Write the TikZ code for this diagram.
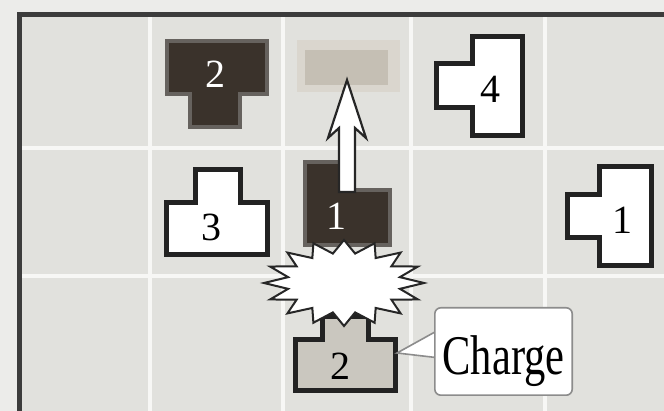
\documentclass[tikz,border=0pt]{standalone}
\usepackage{fontspec}
\setmainfont{Liberation Serif}
\usetikzlibrary{calc}
\definecolor{outbg}{HTML}{ECECEA}
\definecolor{inbg}{HTML}{E1E1DD}
\definecolor{gridc}{HTML}{F7F7F5}
\definecolor{framec}{HTML}{3C3C3C}
\definecolor{darkfill}{HTML}{3A322B}
\definecolor{darkedge}{HTML}{66625E}
\definecolor{ghosthalo}{HTML}{DAD6CE}
\definecolor{ghostcore}{HTML}{C5BFB4}
\definecolor{lightfill}{HTML}{CAC7BF}
\definecolor{edgec}{HTML}{222222}
\begin{document}
\begin{tikzpicture}[x=1pt,y=-1pt,
  wpiece/.style={fill=white,draw=edgec,line width=5pt,line join=miter},
  dpiece/.style={fill=darkfill,draw=darkedge,line width=4pt,line join=miter},
  lpiece/.style={fill=lightfill,draw=edgec,line width=5pt,line join=miter},
  digit/.style={font=\fontsize{40}{40}\selectfont,inner sep=0pt},
  gridline/.style={gridc,line width=3.5pt},
  burststyle/.style={fill=white,draw=black!85,line width=2pt,line join=miter},
  calloutstyle/.style={fill=white,draw=black!45,line width=1.6pt},
  arrowstyle/.style={fill=white,draw=black!85,line width=2.2pt,line join=miter}]
\useasboundingbox (0,0) rectangle (664,411);
\clip (0,0) rectangle (664,411);
% background
\fill[outbg] (0,0) rectangle (664,411);
\fill[inbg] (19,14.5) rectangle (670,420);
% grid
\draw[gridline] (150,17) -- (150,420);
\draw[gridline] (283,17) -- (283,420);
\draw[gridline] (411,17) -- (411,420);
\draw[gridline] (545,17) -- (545,420);
\draw[gridline] (22,148) -- (670,148);
\draw[gridline] (22,276) -- (670,276);
% frame
\draw[framec,line width=5pt] (19,420) -- (19,14.5) -- (670,14.5);
% ghost target
\fill[ghosthalo] (297,40) rectangle (400,92);
\fill[ghostcore] (305,50) rectangle (388,85);
\coordinate (ghost) at (347,85);
% piece 2 (dark, top-left)
\draw[dpiece] (167,41) -- (267,41) -- (267,94) -- (240,94) -- (240,127) -- (190,127) -- (190,94) -- (167,94) -- cycle;
\node[digit,text=white] (p2a) at (215,74) {2};
% piece 4
\draw[wpiece] (472,37) -- (522,37) -- (522,136) -- (472,136) -- (472,108) -- (436,108) -- (436,64) -- (472,64) -- cycle;
\node[digit] (p4) at (490,89) {4};
% piece 3
\draw[wpiece] (195,170) -- (240,170) -- (240,203) -- (267,203) -- (267,255) -- (166,255) -- (166,203) -- (195,203) -- cycle;
\node[digit] (p3) at (211,227) {3};
% piece 1 (right)
\draw[wpiece] (599,167) -- (651,167) -- (651,266) -- (599,266) -- (599,238) -- (567,238) -- (567,195) -- (599,195) -- cycle;
\node[digit] (p1b) at (622,220) {1};
% piece 1 (dark, middle)
\draw[dpiece] (305,162) -- (352,162) -- (352,190) -- (390,190) -- (390,245) -- (305,245) -- cycle;
\node[digit,text=white] (p1a) at (336,216) {1};
% arrow from piece 1 to ghost
\coordinate (arrtail) at (347,192);
\coordinate (arrtip) at (347,80);
\draw[arrowstyle] (arrtip) -- ($(arrtip)+(19,58)$) -- ($(arrtip)+(8,48)$) -- ($(arrtail)+(8,0)$)
  -- ($(arrtail)+(-8,0)$) -- ($(arrtip)+(-8,48)$) -- ($(arrtip)+(-19,58)$) -- cycle;
% piece 2 (light, bottom)
\draw[lpiece] (322,317) -- (368,317) -- (368,340) -- (395,340) -- (395,391) -- (295,391) -- (295,340) -- (322,340) -- cycle;
\node[digit] (p2b) at (340,366) {2};
\coordinate (p2right) at (397,353);
% starburst
\coordinate (burst) at (344,283);
\draw[burststyle] ($(burst)+(0:80 and 43)$)
  \foreach \i in {0,...,15} { -- ($(burst)+(\i*22.5:80 and 43)$) -- ($(burst)+(\i*22.5+11.25:57 and 30)$) } -- cycle;
% callout
\node[minimum width=137pt,minimum height=87pt,inner sep=0pt] (charge) at (503.5,351.5) {};
\draw[calloutstyle] ($(charge.west)+(1,-20)$) -- (p2right) -- ($(charge.west)+(1,6)$);
\draw[calloutstyle,rounded corners=6pt] (charge.south west) rectangle (charge.north east);
\node[anchor=base,inner sep=0pt,font=\fontsize{56}{56}\selectfont] (chargetxt) at (503.5,375) {\scalebox{0.76}[1]{Charge}};
\end{tikzpicture}
\end{document}
